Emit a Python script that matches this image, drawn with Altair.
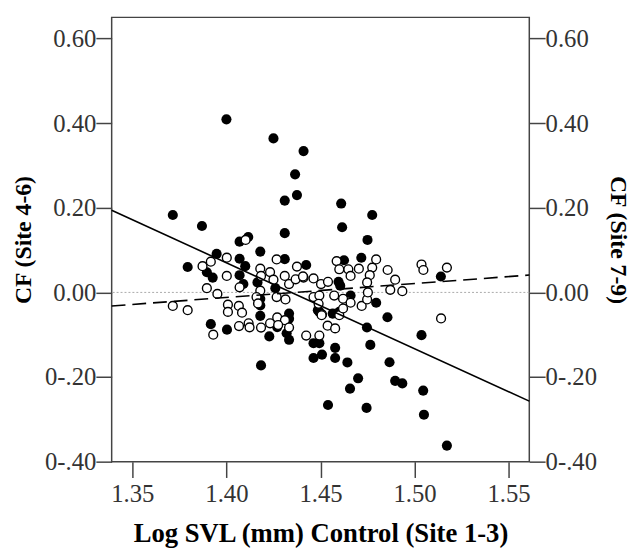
import altair as alt
import pandas as pd

# Site 4-6 (filled circles)
filled_x = [1.400, 1.425, 1.441, 1.4365, 1.4375, 1.431, 1.461, 1.3715, 1.387, 1.431,
            1.4615, 1.4775, 1.475, 1.4116, 1.407, 1.418, 1.3948, 1.407, 1.410, 1.431,
            1.4424, 1.3794, 1.3896, 1.3927, 1.4717, 1.4625, 1.514, 1.4596, 1.4605, 1.407,
            1.409, 1.4165, 1.418, 1.418, 1.418, 1.3917, 1.4003, 1.4228, 1.427, 1.4333,
            1.4333, 1.432, 1.4184, 1.4463, 1.4494, 1.4463, 1.4508, 1.4578, 1.4578, 1.4643,
            1.454, 1.4494, 1.460, 1.466, 1.4796, 1.4856, 1.4747, 1.4765, 1.5037, 1.4867,
            1.470, 1.4657, 1.4897, 1.4935, 1.5046, 1.4745, 1.505, 1.5172, 1.4486, 1.4565,
            1.4333, 1.426]
filled_y = [0.409, 0.364, 0.334, 0.279, 0.230, 0.217, 0.210, 0.183, 0.157, 0.140,
            0.154, 0.183, 0.124, 0.131, 0.120, 0.0965, 0.091, 0.0795, 0.062, 0.0786,
            0.0647, 0.060, 0.0477, 0.035, 0.082, 0.076, 0.0376, 0.025, 0.016, 0.0407,
            0.0198, 0.0237, -0.0307, -0.0554, -0.015, -0.075, -0.088, -0.104, -0.082, -0.050,
            -0.112, -0.0965, -0.1725, -0.120, -0.120, -0.155, -0.147, -0.131, -0.155, -0.1655,
            -0.266, -0.046, -0.046, -0.0074, -0.0244, -0.0586, -0.083, -0.124, -0.101, -0.165,
            -0.203, -0.2275, -0.209, -0.215, -0.232, -0.273, -0.289, -0.362, -0.042, -0.050,
            -0.062, 0.010]

# Site 7-9 (open circles)
open_x = [1.3715, 1.3794, 1.3896, 1.3952, 1.3873, 1.3917, 1.4002, 1.4002, 1.4102, 1.4008,
          1.4008, 1.4066, 1.4083, 1.4067, 1.4118, 1.4123, 1.4184, 1.4232, 1.427, 1.4311,
          1.4333, 1.393, 1.407, 1.418, 1.4184, 1.4232, 1.4267, 1.425, 1.431, 1.4333,
          1.4375, 1.4368, 1.441, 1.4463, 1.4503, 1.454, 1.4586, 1.46, 1.418, 1.4267,
          1.4314, 1.4463, 1.4494, 1.4508, 1.4538, 1.4578, 1.4424, 1.4494, 1.4573, 1.4634,
          1.46, 1.5141, 1.4648, 1.466, 1.4704, 1.4796, 1.4775, 1.4762, 1.4748, 1.4857,
          1.4897, 1.4871, 1.4935, 1.5037, 1.5047, 1.5172, 1.462, 1.466, 1.4719, 1.4748,
          1.4752, 1.462, 1.4407, 1.449, 1.4506, 1.416, 1.4168, 1.4275]
open_y = [-0.032, -0.042, 0.010, -0.0035, 0.062, 0.0726, 0.082, 0.039, 0.124, -0.029,
          -0.046, -0.032, -0.048, -0.0795, -0.073, -0.0826, -0.083, -0.073, -0.059, -0.0656,
          -0.083, -0.100, 0.012, 0.056, 0.039, 0.048, 0.078, 0.030, 0.039, 0.0198,
          0.061, 0.031, 0.035, 0.033, 0.0198, 0.025, 0.074, 0.0547, 0.004, -0.011,
          -0.0167, -0.011, -0.0074, -0.052, -0.0786, -0.085, -0.102, -0.102, -0.0074, -0.019,
          -0.054, -0.0616, 0.0547, 0.039, 0.056, 0.078, 0.0586, 0.0407, 0.0237, 0.053,
          0.030, 0.006, 0.0028, 0.066, 0.053, 0.0586, -0.015, -0.0244, -0.032, -0.0167,
          0.000, -0.038, 0.0377, -0.027, -0.054, -0.011, -0.026, -0.077]

# Fit lines (at the plot edges)
fit_x = [1.339, 1.561]
fit_solid = [0.194, -0.257]
fit_dashed = [-0.032, 0.041]

x_ticks = [1.35, 1.40, 1.45, 1.50, 1.55]
y_ticks = [-0.4, -0.2, 0.0, 0.2, 0.4, 0.6]

FONT = "Liberation Serif"
LBL = 25
TTL = 24
XTTL = 27

xscale = alt.Scale(domain=[1.339, 1.561], nice=False, zero=False)
yscale = alt.Scale(domain=[-0.40, 0.65], nice=False, zero=False)

label_expr = ("datum.value < 0 ? '0-' + substring(format(abs(datum.value), '.2f'), 1)"
              " : format(datum.value, '.2f')")

x_axis = alt.Axis(values=x_ticks, format=".2f", title="Log SVL (mm) Control (Site 1-3)",
                  tickSize=16, labelPadding=4, titlePadding=15, grid=False, domain=False,
                  tickColor="#444", tickWidth=1.5, labelColor="#333", labelFont=FONT,
                  labelFontSize=LBL, titleFont=FONT, titleFontSize=XTTL, titleFontWeight="bold",
                  titleColor="#000")


def y_axis(title, orient, pad):
    return alt.Axis(values=y_ticks, labelExpr=label_expr, title=title, orient=orient,
                    tickSize=16, labelPadding=0, titlePadding=pad, grid=False, domain=False,
                    tickColor="#444", tickWidth=1.5, labelColor="#333", labelFont=FONT,
                    labelFontSize=LBL, titleFont=FONT, titleFontSize=TTL,
                    titleFontWeight="bold", titleColor="#000")


df_f = pd.DataFrame({"x": filled_x, "y": filled_y})
df_o = pd.DataFrame({"x": open_x, "y": open_y})
df_fit = pd.DataFrame({"x": fit_x, "solid": fit_solid, "dashed": fit_dashed})
df_zero = pd.DataFrame({"y": [0.0]})

X = alt.X("x:Q", scale=xscale, axis=x_axis)

zero = alt.Chart(df_zero).mark_rule(color="#aaaaaa", strokeWidth=1, strokeDash=[2, 2]).encode(
    y=alt.Y("y:Q", scale=yscale, axis=None))

pts_f = alt.Chart(df_f).mark_point(shape="circle", filled=True, color="black", size=105,
                                   opacity=1).encode(
    x=X,
    y=alt.Y("y:Q", scale=yscale, axis=y_axis("CF (Site 4-6)", "left", 9)))

pts_o = alt.Chart(df_o).mark_point(shape="circle", fill="white", stroke="black", strokeWidth=1.4,
                                   size=80, opacity=1, fillOpacity=1).encode(
    x=X,
    y=alt.Y("y:Q", scale=yscale, axis=y_axis("CF (Site 7-9)", "right", 9)))

line_s = alt.Chart(df_fit).mark_line(color="black", strokeWidth=1.6).encode(
    x=X,
    y=alt.Y("solid:Q", scale=yscale, axis=None))

line_d = alt.Chart(df_fit).mark_line(color="black", strokeWidth=1.6, strokeDash=[14, 7]).encode(
    x=X,
    y=alt.Y("dashed:Q", scale=yscale, axis=None))

chart = alt.layer(zero, pts_f, pts_o, line_s, line_d).resolve_axis(
    y="independent").properties(
    width=423, height=450,
    autosize=alt.AutoSizeParams(type="none"),
    padding={"left": 105, "top": 6, "right": 102, "bottom": 88},
    background="white",
).configure_view(stroke="#444", strokeWidth=1.5)

chart.save("out.html", embed_options={"renderer": "svg", "actions": False})
